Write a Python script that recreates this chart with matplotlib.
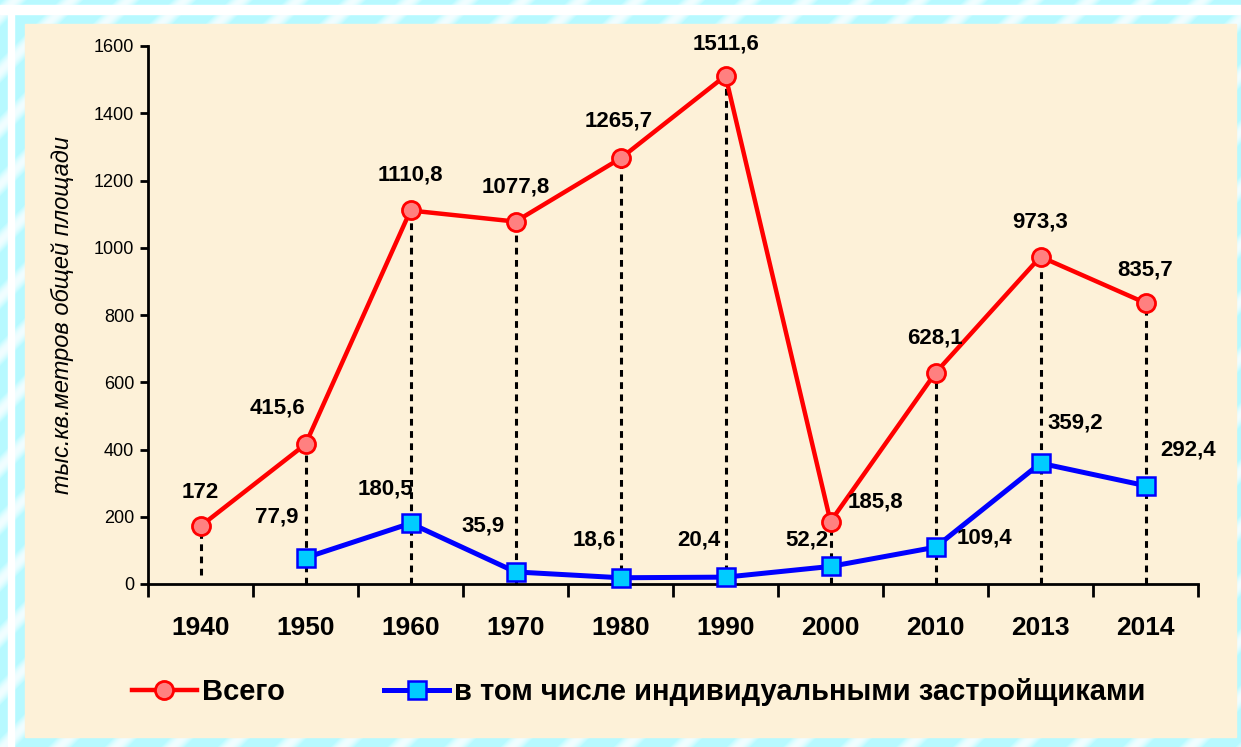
import matplotlib.pyplot as plt
import numpy as np
from matplotlib.patches import Rectangle
from matplotlib.lines import Line2D

plt.rcParams['font.family'] = ['Liberation Sans', 'DejaVu Sans']

#--------------------------------
# data
#--------------------------------
years = ['1940', '1950', '1960', '1970', '1980', '1990', '2000', '2010', '2013', '2014']
total = [172, 415.6, 1110.8, 1077.8, 1265.7, 1511.6, 185.8, 628.1, 973.3, 835.7]
indiv = [None, 77.9, 180.5, 35.9, 18.6, 20.4, 52.2, 109.4, 359.2, 292.4]

# label offsets in pixels (layout only)
off_total = [(0, 34), (-28, 36), (0, 35), (0, 35), (-2, 37), (0, 32), (45, 20), (-1, 35), (0, 35), (0, 33)]
off_indiv = [None, (-29, 41), (-25, 34), (-32, 46), (-26, 38), (-27, 37), (-24, 26), (49, 9), (35, 40), (43, 36)]


def fmt(v):
    s = ('%.1f' % v).rstrip('0').rstrip('.')
    return s.replace('.', ',')


fig = plt.figure(figsize=(12.41, 7.47), dpi=100)

#--------------------------------
# background: cyan with diagonal light stripes, white frame, beige panel
#--------------------------------
bg = fig.add_axes([0, 0, 1, 1])
yy, xx = np.mgrid[0:747, 0:1241]
stripes = 0.5 + 0.5 * np.sin((xx + yy) / 9.0)
stripes = np.clip((stripes - 0.6) * 2.5, 0, 1)
img = np.zeros((747, 1241, 3))
base = np.array([0.72, 0.98, 1.0])
img[:] = base
img = img + (1 - img) * stripes[..., None] * 0.8
bg.imshow(img, extent=[0, 1241, 747, 0], aspect='auto')
bg.set_xlim(0, 1241)
bg.set_ylim(747, 0)
bg.axis('off')
# white frame
bg.add_patch(Rectangle((0, 5), 1241, 9, color='white'))
bg.add_patch(Rectangle((8, 5), 6, 742, color='white'))
# beige panel
bg.add_patch(Rectangle((25, 24), 1211, 713, color='#FDF1D8'))

#--------------------------------
# chart
#--------------------------------
ax = fig.add_axes([148 / 1241, 1 - 584 / 747, 1050 / 1241, 538 / 747])
ax.patch.set_alpha(0)

x = np.arange(len(years))
xi = np.array([i for i in x if indiv[i] is not None])
vi = np.array([v for v in indiv if v is not None])

# dashed drop lines
for i, v in enumerate(total):
    lo = 28 if i == 0 else 0
    ax.plot([i, i], [lo, v], color='black', lw=2.2, ls=(0, (2.2, 1.8)), zorder=1)

ax.plot(x, total, color='#FF0000', lw=3.2, marker='o', ms=13,
        mfc='#FF8080', mec='#FF0000', mew=2, zorder=3, clip_on=False)
ax.plot(xi, vi, color='#0000FF', lw=3.6, marker='s', ms=13.5,
        mfc='#00CCFF', mec='#0000FF', mew=1.8, zorder=3, clip_on=False)

for i, v in enumerate(total):
    ax.annotate(fmt(v), (i, v), xytext=off_total[i], textcoords='offset pixels',
                ha='center', va='center', fontsize=16, fontweight='bold')
for i, v in enumerate(indiv):
    if v is None:
        continue
    ax.annotate(fmt(v), (i, v), xytext=off_indiv[i], textcoords='offset pixels',
                ha='center', va='center', fontsize=16, fontweight='bold')

ax.set_xlim(-0.5, len(years) - 0.5)
ax.set_ylim(0, 1600)
ax.set_yticks(np.arange(0, 1601, 200))
ax.tick_params(axis='y', labelsize=13, length=6, width=2, pad=4)
ax.set_xticks(x)
ax.set_xticklabels(years, fontsize=19, fontweight='bold')
ax.tick_params(axis='x', length=0, pad=23)
ax.set_xticks(np.arange(-0.5, len(years), 1), minor=True)
ax.tick_params(axis='x', which='minor', length=9, width=2)
for s in ['top', 'right']:
    ax.spines[s].set_visible(False)
for s in ['left', 'bottom']:
    ax.spines[s].set_linewidth(2)

ax.set_ylabel('тыс.кв.метров общей площади', fontsize=17, style='italic', labelpad=14)

#--------------------------------
# legend
#--------------------------------
h1 = Line2D([], [], color='#FF0000', lw=3.2, marker='o', ms=13, mfc='#FF8080', mec='#FF0000', mew=2)
h2 = Line2D([], [], color='#0000FF', lw=3.6, marker='s', ms=13.5, mfc='#00CCFF', mec='#0000FF', mew=1.8)
fig.legend([h1, h2], ['Всего', 'в том числе индивидуальными застройщиками'],
           loc='center', bbox_to_anchor=(0.515, 1 - 692 / 747), ncol=2, frameon=False,
           prop={'size': 21, 'weight': 'bold'}, handlelength=2.2, handletextpad=0.2,
           columnspacing=3.4)

fig.savefig('out.png', dpi=100)
